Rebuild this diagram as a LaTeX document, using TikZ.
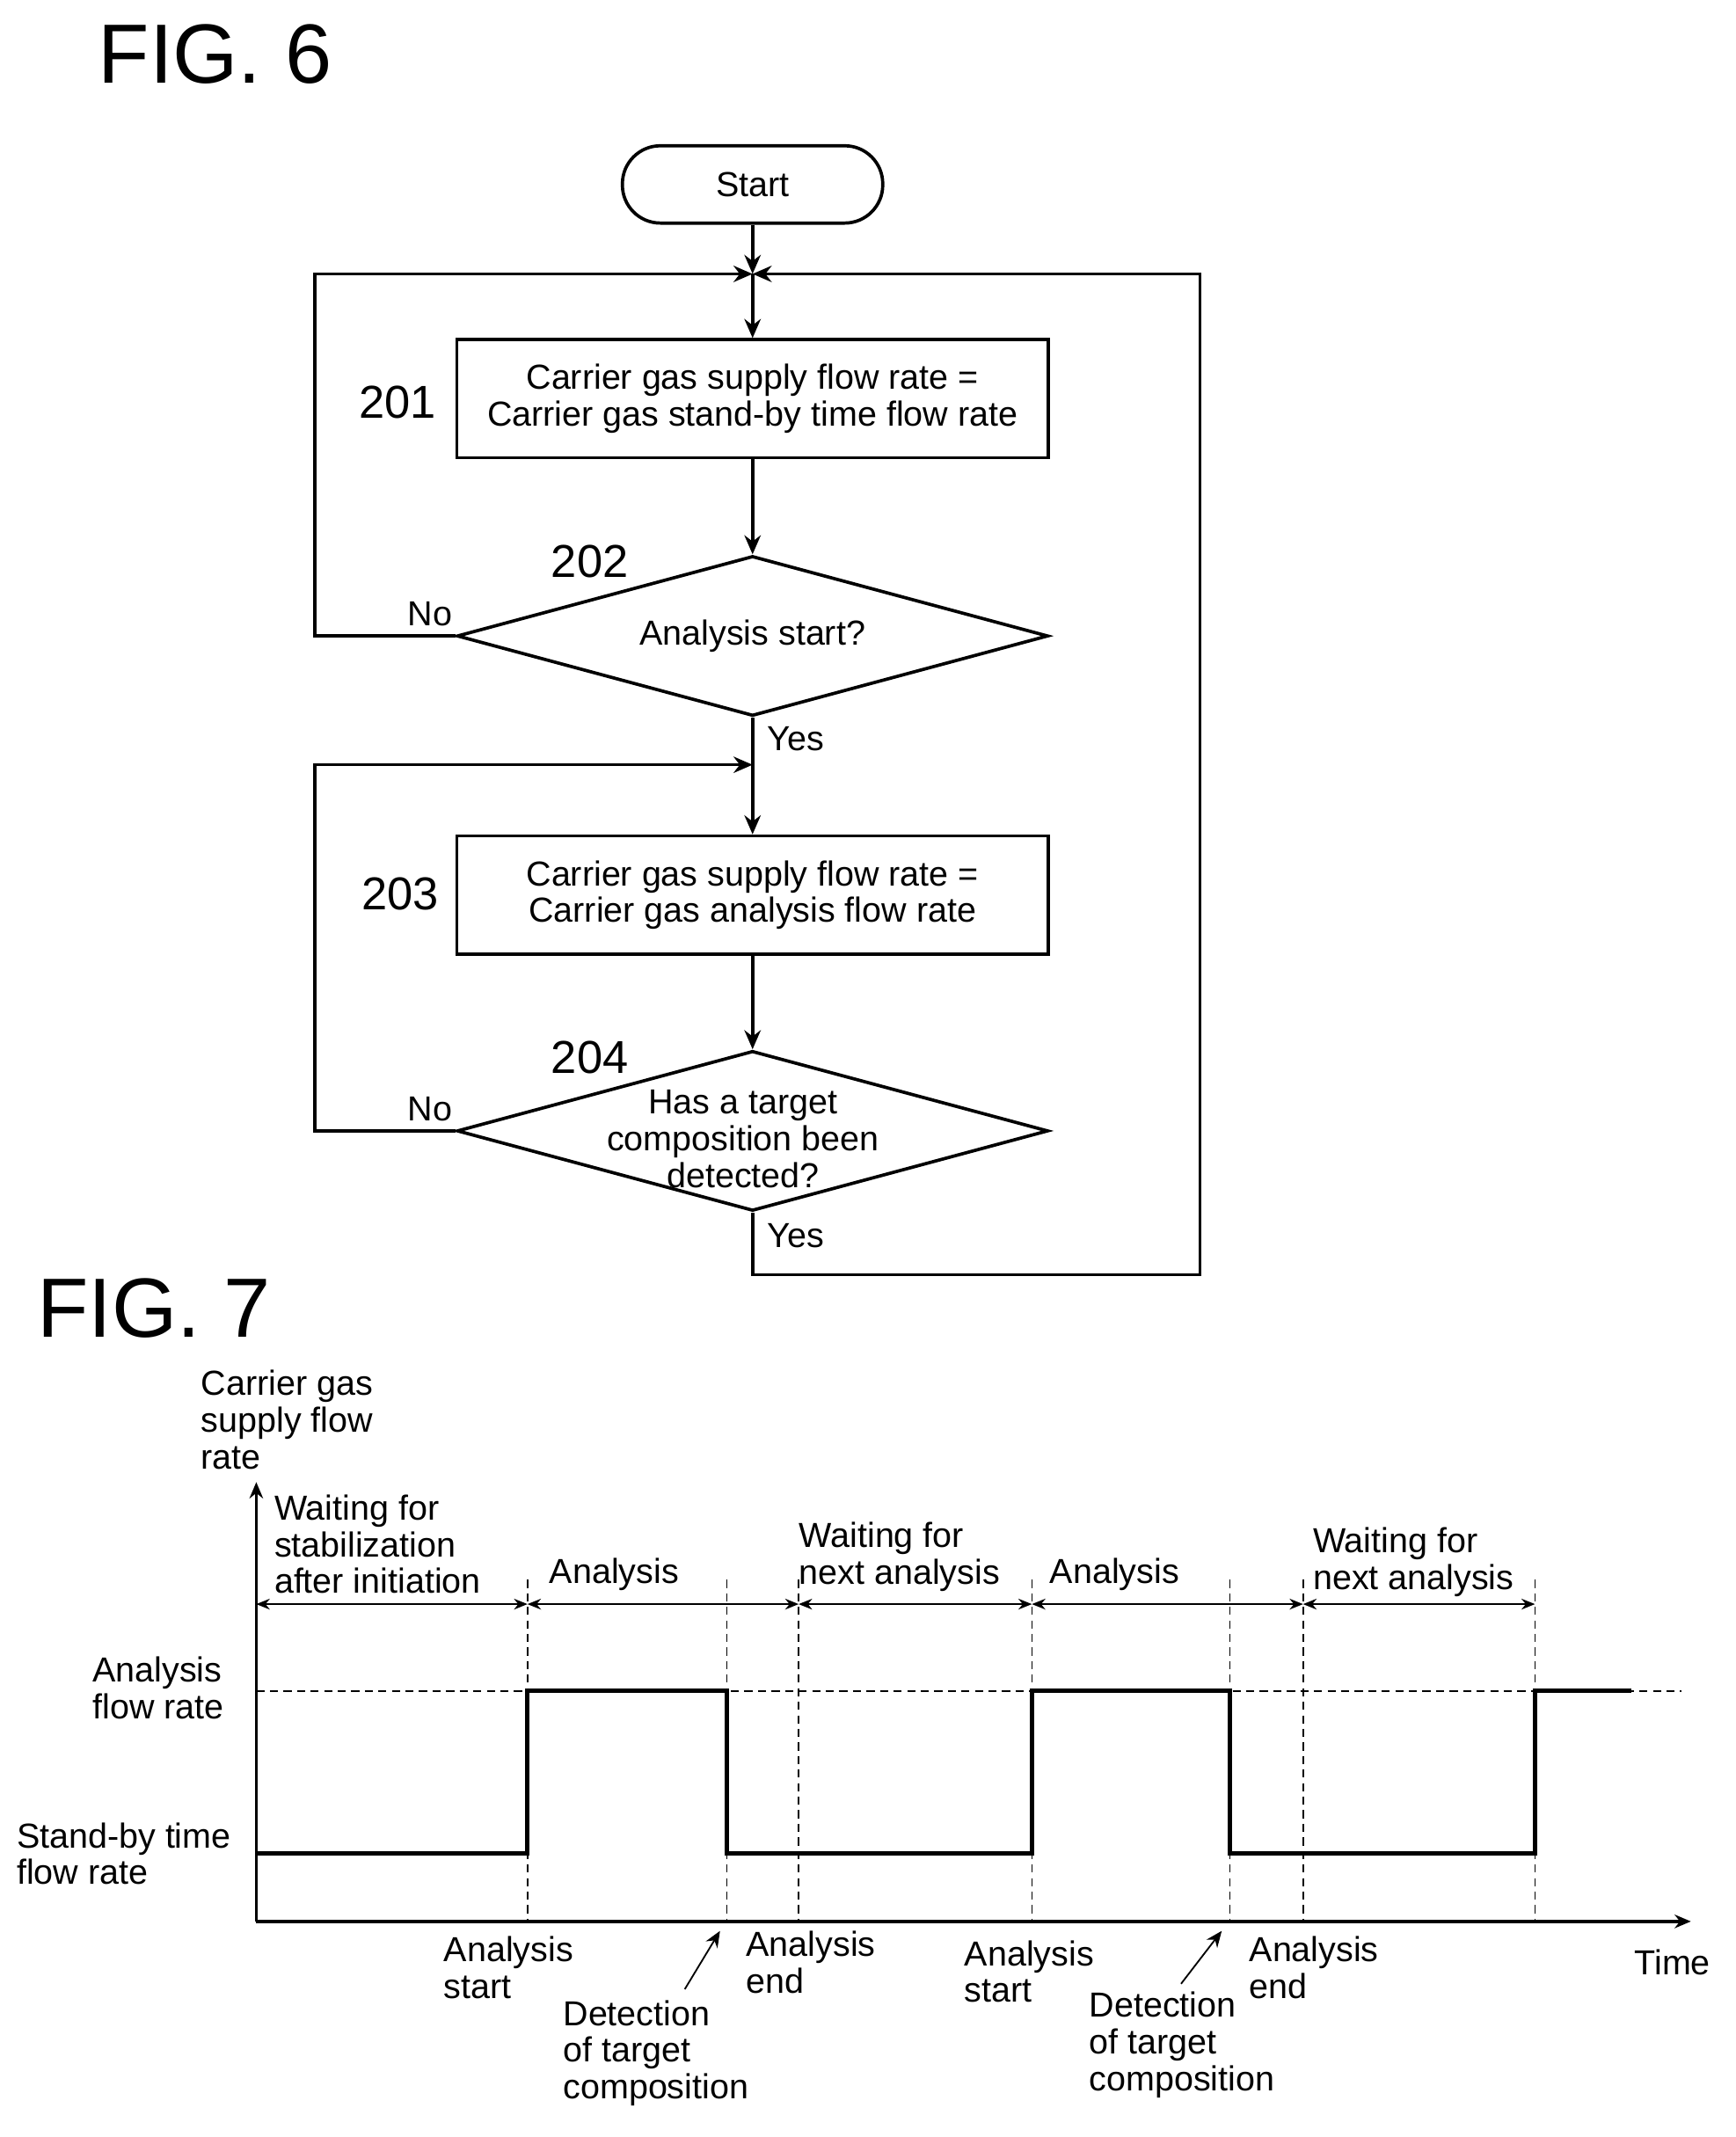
\documentclass[tikz,border=0pt]{standalone}
\usepackage{fontspec}
\setmainfont{Liberation Sans}
\usetikzlibrary{shapes.geometric,arrows.meta}
\begin{document}
\begin{tikzpicture}[x=0.5pt,y=-0.5pt,
 every node/.style={font=\fontsize{12.8}{13.5}\selectfont,inner sep=0pt},
 ln/.style={line width=1.2pt},
 arr/.style={ln,-{Stealth[length=7pt,width=6pt]}},
 box/.style={draw,ln,minimum width=218pt,minimum height=43.5pt,align=center},
 dia/.style={draw,ln,diamond,aspect=3.7,minimum width=218pt,minimum height=59pt,align=center},
 num/.style={font=\fontsize{17}{18}\selectfont},
 lab/.style={align=left,anchor=west},
 fig/.style={font=\fontsize{31}{33}\selectfont,anchor=west},
 dsh/.style={line width=0.5pt,dash pattern=on 3pt off 2pt},
 da/.style={line width=0.5pt,{Stealth[length=5pt,width=4pt]}-{Stealth[length=5pt,width=4pt]}},
 sig/.style={line width=1.6pt}]
\useasboundingbox (0,0) rectangle (1280,1576);
\node[fig] (f6) at (72,40) {FIG. 6};
\node[draw,ln,rounded corners=14pt,minimum width=96pt,minimum height=28.5pt] (start) at (555,136) {Start};
\coordinate (j1) at (555,202);
\node[box] (b201) at (555,294) {Carrier gas supply flow rate =\\Carrier gas stand-by time flow rate};
\node[num] (n201) at (293,297) {201};
\node[dia] (d202) at (555,469) {Analysis start?};
\node[num] (n202) at (435,414) {202};
\node (no1) at (317,453) {No};
\node (yes1) at (587,545) {Yes};
\coordinate (j2) at (555,564);
\node[box] (b203) at (555,660) {Carrier gas supply flow rate =\\Carrier gas analysis flow rate};
\node[num] (n203) at (295,659) {203};
\node[dia] (d204) at (555,834) {};
\node[align=center] (t204) at (548,840) {Has a target\\composition been\\detected?};
\node[num] (n204) at (435,780) {204};
\node (no2) at (317,818) {No};
\node (yes2) at (587,911) {Yes};
\coordinate (c1) at (232,469); \coordinate (c2) at (232,202);
\coordinate (c3) at (232,834); \coordinate (c4) at (232,564);
\coordinate (c5) at (555,940); \coordinate (c6) at (885,940); \coordinate (c7) at (885,202);
\draw[arr] (start) -- (j1);
\draw[arr] (j1) -- (b201);
\draw[arr] (b201) -- (d202);
\draw[arr] (d202.west) -- (c1) -- (c2) -- (j1);
\draw[arr] (d202.south) -- (j2) -- (b203);
\draw[arr] (b203) -- (d204);
\draw[arr] (d204.west) -- (c3) -- (c4) -- (j2);
\draw[arr] (d204.south) -- (c5) -- (c6) -- (c7) -- (j1);
% FIG 7
\node[fig] (f7) at (27,965) {FIG. 7};
\coordinate (o) at (189,1417);
\coordinate (ytop) at (189,1093);
\coordinate (xend) at (1247,1417);
\draw[ln,-{Stealth[length=6pt,width=5pt]}] (o) -- (ytop);
\draw[ln,-{Stealth[length=6pt,width=5pt]}] (o) -- (xend);
\node[lab] (time) at (1205,1447) {Time};
\node[lab] (ylab) at (148,1047) {Carrier gas\\supply flow\\rate};
\node[lab] (afr) at (68,1245) {Analysis\\flow rate};
\node[lab] (sfr) at (12,1367) {Stand-by time\\flow rate};
\draw[dsh] (189,1247) -- (1240,1247);
\foreach \x in {389,536,589,761,907,961,1132} \draw[dsh] (\x,1165) -- (\x,1417);
\draw[sig] (189,1367) -- (389,1367) -- (389,1247) -- (536,1247) -- (536,1367) -- (761,1367) -- (761,1247) -- (907,1247) -- (907,1367) -- (1132,1367) -- (1132,1247) -- (1203,1247);
\draw[da] (189,1183) -- (389,1183);
\draw[da] (389,1183) -- (589,1183);
\draw[da] (589,1183) -- (761,1183);
\draw[da] (761,1183) -- (961,1183);
\draw[da] (961,1183) -- (1132,1183);
\node[lab] (w1) at (202,1139) {Waiting for\\stabilization\\after initiation};
\node (a1) at (453,1161) {Analysis};
\node[lab] (w2) at (589,1148) {Waiting for\\next analysis};
\node (a2) at (822,1161) {Analysis};
\node[lab] (w3) at (968,1152) {Waiting for\\next analysis};
\node[lab] (as1) at (327,1451) {Analysis\\start};
\node[lab] (ae1) at (550,1447) {Analysis\\end};
\node[lab] (as2) at (711,1454) {Analysis\\start};
\node[lab] (ae2) at (921,1451) {Analysis\\end};
\node[lab] (dt1) at (415,1514) {Detection\\of target\\composition};
\node[lab] (dt2) at (803,1508) {Detection\\of target\\composition};
\coordinate (p1) at (505,1467); \coordinate (q1) at (531,1424);
\coordinate (p2) at (871,1463); \coordinate (q2) at (901,1424);
\draw[line width=0.6pt,-{Stealth[length=6pt,width=5pt]}] (p1) -- (q1);
\draw[line width=0.6pt,-{Stealth[length=6pt,width=5pt]}] (p2) -- (q2);
\end{tikzpicture}
\end{document}
